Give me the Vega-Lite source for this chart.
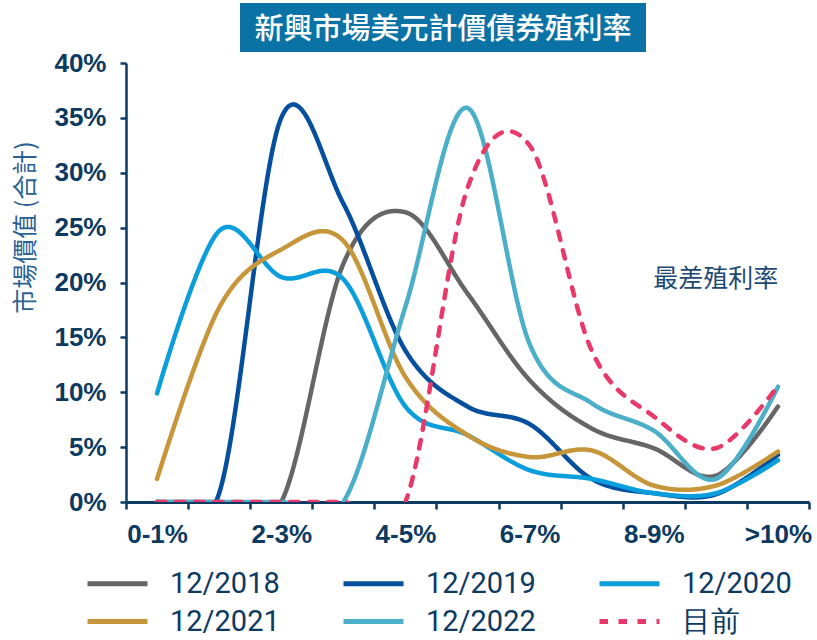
{
  "$schema": "https://vega.github.io/schema/vega-lite/v6.json",
  "padding": {"left": 13, "top": 3, "right": 5, "bottom": 5},
  "spacing": -2,
  "config": {"view": {"stroke": null}, "font": "Liberation Sans"},
  "vconcat": [
    {
      "spacing": 0,
      "hconcat": [
        {"width": 114, "height": 49, "data": {"values": [{}]}, "mark": {"type": "text", "text": " "}},
        {
          "width": 406,
          "height": 49,
          "view": {"fill": "#0b72a6", "stroke": null},
          "data": {"values": [{}]},
          "mark": {"type": "text", "text": "新興市場美元計價債券殖利率", "font": "Noto Sans CJK TC", "fontSize": 29, "fontWeight": 500, "color": "#ffffff", "baseline": "middle", "align": "center", "dy": 2}
        }
      ]
    },
    {
      "width": 683,
      "height": 439,
      "data": {
        "values": [
          {"series": "12/2018", "bucket": "0-1%", "value": 0},
          {"series": "12/2018", "bucket": "1-2%", "value": 0},
          {"series": "12/2018", "bucket": "2-3%", "value": 0},
          {"series": "12/2018", "bucket": "3-4%", "value": 0.217},
          {"series": "12/2018", "bucket": "4-5%", "value": 0.264},
          {"series": "12/2018", "bucket": "5-6%", "value": 0.19},
          {"series": "12/2018", "bucket": "6-7%", "value": 0.111},
          {"series": "12/2018", "bucket": "7-8%", "value": 0.067},
          {"series": "12/2018", "bucket": "8-9%", "value": 0.049},
          {"series": "12/2018", "bucket": "9-10%", "value": 0.024},
          {"series": "12/2018", "bucket": ">10%", "value": 0.087},
          {"series": "12/2019", "bucket": "0-1%", "value": 0},
          {"series": "12/2019", "bucket": "1-2%", "value": 0.008},
          {"series": "12/2019", "bucket": "2-3%", "value": 0.35},
          {"series": "12/2019", "bucket": "3-4%", "value": 0.272},
          {"series": "12/2019", "bucket": "4-5%", "value": 0.138},
          {"series": "12/2019", "bucket": "5-6%", "value": 0.087},
          {"series": "12/2019", "bucket": "6-7%", "value": 0.071},
          {"series": "12/2019", "bucket": "7-8%", "value": 0.021},
          {"series": "12/2019", "bucket": "8-9%", "value": 0.008},
          {"series": "12/2019", "bucket": "9-10%", "value": 0.007},
          {"series": "12/2019", "bucket": ">10%", "value": 0.043},
          {"series": "12/2020", "bucket": "0-1%", "value": 0.099},
          {"series": "12/2020", "bucket": "1-2%", "value": 0.247},
          {"series": "12/2020", "bucket": "2-3%", "value": 0.205},
          {"series": "12/2020", "bucket": "3-4%", "value": 0.203},
          {"series": "12/2020", "bucket": "4-5%", "value": 0.087},
          {"series": "12/2020", "bucket": "5-6%", "value": 0.061},
          {"series": "12/2020", "bucket": "6-7%", "value": 0.029},
          {"series": "12/2020", "bucket": "7-8%", "value": 0.021},
          {"series": "12/2020", "bucket": "8-9%", "value": 0.008},
          {"series": "12/2020", "bucket": "9-10%", "value": 0.008},
          {"series": "12/2020", "bucket": ">10%", "value": 0.038},
          {"series": "12/2021", "bucket": "0-1%", "value": 0.021},
          {"series": "12/2021", "bucket": "1-2%", "value": 0.177},
          {"series": "12/2021", "bucket": "2-3%", "value": 0.23},
          {"series": "12/2021", "bucket": "3-4%", "value": 0.238},
          {"series": "12/2021", "bucket": "4-5%", "value": 0.114},
          {"series": "12/2021", "bucket": "5-6%", "value": 0.061},
          {"series": "12/2021", "bucket": "6-7%", "value": 0.041},
          {"series": "12/2021", "bucket": "7-8%", "value": 0.047},
          {"series": "12/2021", "bucket": "8-9%", "value": 0.015},
          {"series": "12/2021", "bucket": "9-10%", "value": 0.015},
          {"series": "12/2021", "bucket": ">10%", "value": 0.046},
          {"series": "12/2022", "bucket": "0-1%", "value": 0},
          {"series": "12/2022", "bucket": "1-2%", "value": 0},
          {"series": "12/2022", "bucket": "2-3%", "value": 0},
          {"series": "12/2022", "bucket": "3-4%", "value": 0},
          {"series": "12/2022", "bucket": "4-5%", "value": 0.178},
          {"series": "12/2022", "bucket": "5-6%", "value": 0.359},
          {"series": "12/2022", "bucket": "6-7%", "value": 0.144},
          {"series": "12/2022", "bucket": "7-8%", "value": 0.09},
          {"series": "12/2022", "bucket": "8-9%", "value": 0.065},
          {"series": "12/2022", "bucket": "9-10%", "value": 0.021},
          {"series": "12/2022", "bucket": ">10%", "value": 0.105},
          {"series": "目前", "bucket": "0-1%", "value": 0},
          {"series": "目前", "bucket": "1-2%", "value": 0},
          {"series": "目前", "bucket": "2-3%", "value": 0},
          {"series": "目前", "bucket": "3-4%", "value": 0},
          {"series": "目前", "bucket": "4-5%", "value": 0},
          {"series": "目前", "bucket": "5-6%", "value": 0.286},
          {"series": "目前", "bucket": "6-7%", "value": 0.325},
          {"series": "目前", "bucket": "7-8%", "value": 0.138},
          {"series": "目前", "bucket": "8-9%", "value": 0.078},
          {"series": "目前", "bucket": "9-10%", "value": 0.049},
          {"series": "目前", "bucket": ">10%", "value": 0.106}
        ]
      },
      "layer": [
        {
          "mark": {"type": "line", "interpolate": "cardinal", "tension": 0, "strokeWidth": 4.5, "strokeCap": "round", "clip": true},
          "encoding": {
            "x": {
              "field": "bucket", "type": "ordinal", "bandPosition": 0.5,
              "sort": ["0-1%", "1-2%", "2-3%", "3-4%", "4-5%", "5-6%", "6-7%", "7-8%", "8-9%", "9-10%", ">10%"],
              "scale": {"type": "band", "paddingInner": 0, "paddingOuter": 0},
              "axis": {
                "title": null,
                "labelExpr": "indexof(['0-1%','2-3%','4-5%','6-7%','8-9%','>10%'], datum.value) >= 0 ? datum.label : ''",
                "labelOverlap": false, "labelAngle": 0,
                "labelFont": "Liberation Sans", "labelFontSize": 26, "labelFontWeight": "bold", "labelColor": "#0c3a61", "labelPadding": 12,
                "tickBand": "extent", "tickSize": 7, "tickWidth": 2.5, "tickColor": "#0c3a61",
                "domainColor": "#0c3a61", "domainWidth": 3, "grid": false
              }
            },
            "y": {
              "field": "value", "type": "quantitative",
              "scale": {"domain": [0, 0.4]},
              "axis": {
                "title": "市場價值 (合計)", "titleFont": "Noto Sans CJK TC", "titleFontSize": 25, "titleFontWeight": "normal", "titleColor": "#2b6193",
                "titleX": -101, "titleY": 164, "titleAngle": 270, "titleAlign": "center", "titleBaseline": "middle",
                "values": [0, 0.05, 0.1, 0.15, 0.2, 0.25, 0.3, 0.35, 0.4], "format": ".0%",
                "labelFont": "Liberation Sans", "labelFontSize": 26, "labelFontWeight": "bold", "labelColor": "#0c3a61", "labelPadding": 14,
                "tickSize": 6, "tickWidth": 2.5, "tickColor": "#0c3a61",
                "domainColor": "#0c3a61", "domainWidth": 2.5, "grid": false
              }
            },
            "color": {
              "field": "series", "type": "nominal",
              "sort": ["12/2018", "12/2019", "12/2020", "12/2021", "12/2022", "目前"],
              "scale": {"domain": ["12/2018", "12/2019", "12/2020", "12/2021", "12/2022", "目前"], "range": ["#666666", "#044f9e", "#0a9fdc", "#c8963a", "#4bafc9", "#e8396a"]},
              "legend": {
                "title": null, "orient": "none", "legendX": -23, "legendY": 566, "columns": 3, "direction": "horizontal", "gridAlign": "all",
                "symbolType": "M-3,0H3", "symbolSize": 400, "symbolStrokeWidth": 5,
                "labelFont": "Roboto", "labelFontSize": 29, "labelColor": "#0c3a61", "labelOffset": 38,
                "columnPadding": 53, "rowPadding": 8, "padding": 0
              }
            },
            "strokeDash": {
              "field": "series", "type": "nominal",
              "sort": ["12/2018", "12/2019", "12/2020", "12/2021", "12/2022", "目前"],
              "scale": {"domain": ["12/2018", "12/2019", "12/2020", "12/2021", "12/2022", "目前"], "range": [[1, 0], [1, 0], [1, 0], [1, 0], [1, 0], [8.5, 10.5]]}
            }
          }
        },
        {
          "data": {"values": [{}]},
          "mark": {"type": "text", "text": "最差殖利率", "font": "Noto Sans CJK TC", "fontSize": 25, "color": "#1c4a74"},
          "encoding": {
            "x": {"datum": "9-10%", "type": "ordinal", "bandPosition": 0.5},
            "y": {"datum": 0.203, "type": "quantitative"}
          }
        }
      ]
    }
  ]
}
